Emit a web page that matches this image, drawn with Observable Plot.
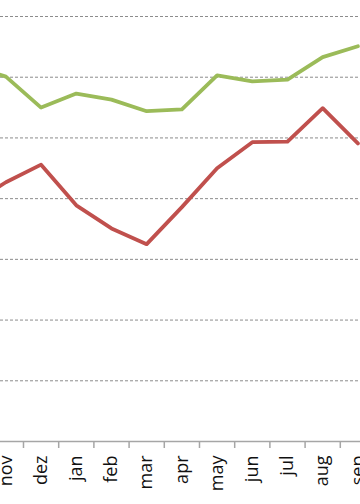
<!DOCTYPE html>
<html><head><meta charset="utf-8">
<script src="https://cdn.jsdelivr.net/npm/d3@7"></script>
<script src="https://cdn.jsdelivr.net/npm/@observablehq/plot@0.6"></script>
<style>html,body{margin:0;padding:0;background:#fff;overflow:hidden}</style>
</head><body><div id="chart"></div>
<script>
const months = ["oct","nov","dez","jan","feb","mar","apr","may","jun","jul","aug","sep"];
const seriesGreen = [6.2, 6.01, 5.50, 5.73, 5.63, 5.44, 5.47, 6.03, 5.93, 5.96, 6.33, 6.51];
const seriesRed = [3.9, 4.27, 4.56, 3.89, 3.51, 3.25, 3.86, 4.50, 4.93, 4.94, 5.49, 4.91];
const gridValues = [1, 2, 3, 4, 5, 6, 7];

const rows = months.map((m, i) => ({i, m, g: seriesGreen[i], r: seriesRed[i]}));
const boundaries = months.slice(0, -1).map((m, i) => i + 0.5);

const chart = Plot.plot({
  width: 360, height: 504,
  marginLeft: 0, marginRight: 0, marginTop: 16, marginBottom: 63,
  style: {fontFamily: "'Open Sans', sans-serif", background: "#fff"},
  x: {type: "linear", domain: [0.847, 11.074]},
  y: {domain: [0, 7], axis: null},
  marks: [
    Plot.ruleY(gridValues, {stroke: "#8c8c8c", strokeDasharray: "3,2", strokeWidth: 1}),
    Plot.ruleY([0], {stroke: "#a6a6a6", strokeWidth: 1.5}),
    Plot.axisX({ticks: boundaries, tickSize: 7, tickFormat: () => "", label: null, stroke: "#a6a6a6", strokeWidth: 1.5, strokeOpacity: 1}),
    Plot.lineY(rows, {x: "i", y: "g", stroke: "#9BBB59", strokeWidth: 3.8, clip: true}),
    Plot.lineY(rows, {x: "i", y: "r", stroke: "#C0504D", strokeWidth: 3.8, clip: true}),
    Plot.text(rows.filter(d => d.i > 0), {x: "i", text: "m", frameAnchor: "bottom", rotate: -90, textAnchor: "end", lineAnchor: "middle", dy: 14, fontSize: 18, fill: "#111"})
  ]
});
document.getElementById("chart").appendChild(chart);
</script>
</body></html>
